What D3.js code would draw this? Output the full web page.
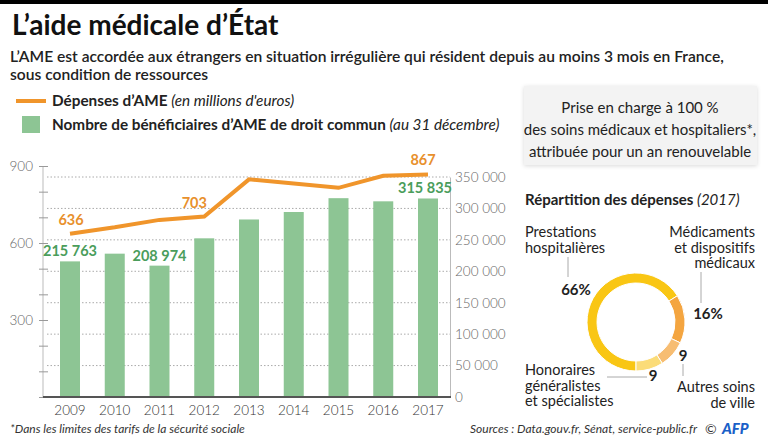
<!DOCTYPE html>
<html>
<head>
<meta charset="utf-8">
<script src="https://cdn.jsdelivr.net/npm/d3@7"></script>
<style>
  body { margin: 0; background: #fff; }
  text { font-family: Lato, "Noto Sans", sans-serif; }
</style>
</head>
<body>
<div id="chart"></div>
<script>
// data
var years = ["2009", "2010", "2011", "2012", "2013", "2014", "2015", "2016", "2017"];
var beneficiaires = [215763, 228036, 208974, 252437, 282425, 294298, 316314, 311310, 315835];
var depenses = [636, 661, 690, 703, 848, 832, 815, 862, 867];
var leftTicks = [0, 100, 200, 300, 400, 500, 600, 700, 800, 900];
var rightTicks = [0, 50000, 100000, 150000, 200000, 250000, 300000, 350000];
var shareLabels = ["Prestations hospitalières", "Médicaments et dispositifs médicaux", "Autres soins de ville", "Honoraires généralistes et spécialistes"];
var shareValues = [66, 16, 9, 9];
var shareColors = ["#f9c614", "#f4a540", "#f7bd72", "#fbdc78"];

var W = 768, H = 447;
var svg = d3.select("#chart").append("svg")
    .attr("width", W).attr("height", H);

// top bar + title
svg.append("rect").attr("x", 0).attr("y", 0).attr("width", W).attr("height", 4).attr("fill", "#000");
svg.append("text").attr("x", 12).attr("y", 35)
    .style("font-size", "28px").style("font-weight", 700).attr("fill", "#111")
    .text("L’aide médicale d’État");
svg.append("text").attr("x", 10).attr("y", 62)
    .style("font-size", "15.6px").style("font-weight", 600).attr("fill", "#222")
    .text("L’AME est accordée aux étrangers en situation irrégulière qui résident depuis au moins 3 mois en France,");
svg.append("text").attr("x", 10).attr("y", 80)
    .style("font-size", "15.6px").style("font-weight", 600).attr("fill", "#222")
    .text("sous condition de ressources");

// legend
svg.append("line").attr("x1", 16).attr("x2", 46).attr("y1", 101).attr("y2", 101)
    .attr("stroke", "#f0952b").attr("stroke-width", 4);
var l1 = svg.append("text").attr("x", 52).attr("y", 106).style("font-size", "15.3px").attr("fill", "#222");
l1.append("tspan").style("font-weight", 700).text("Dépenses d’AME ");
l1.append("tspan").style("font-style", "italic").text("(en millions d'euros)");
svg.append("rect").attr("x", 22).attr("y", 116).attr("width", 18).attr("height", 17).attr("fill", "#8dc594");
var l2 = svg.append("text").attr("x", 52).attr("y", 130).style("font-size", "15.3px").attr("fill", "#222");
l2.append("tspan").style("font-weight", 700).text("Nombre de bénéficiaires d’AME de droit commun ");
l2.append("tspan").style("font-style", "italic").text("(au 31 décembre)");

// scales
var x = d3.scalePoint().domain(years).range([70, 428]);
var yL = d3.scaleLinear().domain([0, 900]).range([397, 166]);
var yR = d3.scaleLinear().domain([0, 350000]).range([397, 177]);
var barW = 20;
var fmt = function (v) { return d3.format(",")(v).replace(/,/g, " "); };

// grid (dotted, on the right scale)
svg.append("g").selectAll("line")
    .data(rightTicks.filter(function (d) { return d > 0; }))
    .enter().append("line")
    .attr("x1", 47).attr("x2", 450)
    .attr("y1", function (d) { return yR(d); }).attr("y2", function (d) { return yR(d); })
    .attr("stroke", "#aaa").attr("stroke-width", 1).attr("stroke-dasharray", "1.5,2");

// bars
svg.append("g").selectAll("rect")
    .data(beneficiaires)
    .enter().append("rect")
    .attr("x", function (d, i) { return x(years[i]) - barW / 2; })
    .attr("y", function (d) { return yR(d); })
    .attr("width", barW)
    .attr("height", function (d) { return yR(0) - yR(d); })
    .attr("fill", "#8dc594");

// left axis
var axL = svg.append("g").attr("transform", "translate(43,0)")
    .call(d3.axisLeft(yL).tickValues(leftTicks).tickSize(4)
        .tickFormat(function (d) { return d % 300 === 0 && d > 0 ? d : ""; }));
axL.select(".domain").attr("stroke", "#bbb").attr("d", "M0," + yL(900) + "V" + yL(0));
axL.selectAll(".tick line").attr("stroke", "#999").attr("x1", -4).attr("x2", 5);
axL.selectAll(".tick text").attr("x", -10).attr("fill", "#666")
    .style("font-size", "13.5px").style("font-family", "Lato, sans-serif").style("font-weight", 300);

// right axis
var axR = svg.append("g").attr("transform", "translate(450,0)")
    .call(d3.axisRight(yR).tickValues(rightTicks).tickSize(0).tickFormat(fmt));
axR.select(".domain").attr("stroke", "#bbb");
axR.selectAll(".tick text").attr("x", 5).attr("fill", "#666")
    .style("font-size", "13.5px").style("font-family", "Lato, sans-serif").style("font-weight", 300);

// baseline
svg.append("line").attr("x1", 43).attr("x2", 451).attr("y1", yL(0)).attr("y2", yL(0))
    .attr("stroke", "#555").attr("stroke-width", 2);

// year labels
svg.append("g").selectAll("text")
    .data(years).enter().append("text")
    .attr("x", function (d) { return x(d); }).attr("y", 415)
    .attr("text-anchor", "middle").attr("fill", "#333")
    .style("font-size", "13.5px").style("font-weight", 300)
    .text(function (d) { return d; });

// line
svg.append("path")
    .datum(depenses)
    .attr("fill", "none").attr("stroke", "#f0952b").attr("stroke-width", 4)
    .attr("d", d3.line()
        .x(function (d, i) { return x(years[i]); })
        .y(function (d) { return yL(d); }));

// value labels
var lineLab = [0, 3, 8];
svg.append("g").selectAll("text")
    .data(lineLab).enter().append("text")
    .attr("x", function (i) { return x(years[i]) + (i === 8 ? -5 : i === 3 ? -10 : 1); })
    .attr("y", function (i) { return yL(depenses[i]) - 9; })
    .attr("text-anchor", "middle").attr("fill", "#e8902c")
    .style("font-size", "14.5px").style("font-weight", 700)
    .text(function (i) { return depenses[i]; });
var barLab = [0, 2, 8];
svg.append("g").selectAll("text")
    .data(barLab).enter().append("text")
    .attr("x", function (i) { return x(years[i]) + (i === 8 ? -3 : 0); })
    .attr("y", function (i) { return yR(beneficiaires[i]) - 5; })
    .attr("text-anchor", "middle").attr("fill", "#4a9d5b")
    .style("font-size", "14.5px").style("font-weight", 700)
    .text(function (i) { return fmt(beneficiaires[i]); });

// info box
var defs = svg.append("defs");
var f = defs.append("filter").attr("id", "shadow").attr("x", "-10%").attr("y", "-10%").attr("width", "120%").attr("height", "130%");
f.append("feDropShadow").attr("dx", 0).attr("dy", 1).attr("stdDeviation", 2).attr("flood-color", "#000").attr("flood-opacity", 0.15);
svg.append("rect").attr("x", 524).attr("y", 86).attr("width", 233).attr("height", 79)
    .attr("fill", "#f3f3f3").attr("filter", "url(#shadow)");
var boxLines = ["Prise en charge à 100 %", "des soins médicaux et hospitaliers*,", "attribuée pour un an renouvelable"];
svg.append("g").selectAll("text")
    .data(boxLines).enter().append("text")
    .attr("x", 640).attr("y", function (d, i) { return 113 + i * 22; })
    .attr("text-anchor", "middle").attr("fill", "#222")
    .style("font-size", "15px")
    .text(function (d) { return d; });

// donut
var dt = svg.append("text").attr("x", 525).attr("y", 205).style("font-size", "15px").attr("fill", "#222");
dt.append("tspan").style("font-weight", 700).text("Répartition des dépenses ");
dt.append("tspan").style("font-style", "italic").text("(2017)");

var cx = 636, cy = 322;
var pie = d3.pie().sort(null).startAngle(Math.PI).endAngle(3 * Math.PI);
var arc = d3.arc().innerRadius(39).outerRadius(49);
svg.append("g").attr("transform", "translate(" + cx + "," + cy + ")")
    .selectAll("path").data(pie(shareValues)).enter().append("path")
    .attr("d", arc)
    .attr("fill", function (d, i) { return shareColors[i]; })
    .attr("stroke", "#fff").attr("stroke-width", 1);

// donut labels and leaders
function lines(xp, y0, arr, anchor) {
    svg.append("g").selectAll("text").data(arr).enter().append("text")
        .attr("x", xp).attr("y", function (d, i) { return y0 + i * 15.5; })
        .attr("text-anchor", anchor).attr("fill", "#222")
        .style("font-size", "14.5px")
        .text(function (d) { return d; });
}
lines(525, 237, ["Prestations", "hospitalières"], "start");
lines(755, 237, ["Médicaments", "et dispositifs", "médicaux"], "end");
lines(755, 392, ["Autres soins", "de ville"], "end");
lines(525, 375, ["Honoraires", "généralistes", "et spécialistes"], "start");

var leader = svg.append("g").attr("stroke", "#aaa").attr("stroke-width", 1);
leader.append("line").attr("x1", 568).attr("x2", 568).attr("y1", 257).attr("y2", 277);
leader.append("line").attr("x1", 701).attr("x2", 701).attr("y1", 272).attr("y2", 303);
leader.append("line").attr("x1", 683).attr("x2", 683).attr("y1", 364).attr("y2", 376);
leader.append("line").attr("x1", 607).attr("x2", 647).attr("y1", 377).attr("y2", 377);

var pctPos = [[576, 295], [708, 319], [683, 361], [653, 381]];
svg.append("g").selectAll("text").data(shareValues).enter().append("text")
    .attr("x", function (d, i) { return pctPos[i][0]; })
    .attr("y", function (d, i) { return pctPos[i][1]; })
    .attr("text-anchor", "middle").attr("fill", "#222")
    .style("font-size", "15px").style("font-weight", 700)
    .text(function (d, i) { return i < 2 ? d + "%" : d; });

// footer
svg.append("text").attr("x", 10).attr("y", 433)
    .style("font-size", "12px").style("font-style", "italic").attr("fill", "#333")
    .text("*Dans les limites des tarifs de la sécurité sociale");
svg.append("text").attr("x", 697).attr("y", 433).attr("text-anchor", "end")
    .style("font-size", "12px").style("font-style", "italic").attr("fill", "#333")
    .text("Sources : Data.gouv.fr, Sénat, service-public.fr");
svg.append("text").attr("x", 705).attr("y", 434)
    .style("font-size", "14px").attr("fill", "#333").text("©");
svg.append("text").attr("x", 722).attr("y", 434)
    .style("font-size", "15px").style("font-weight", 900).style("font-style", "italic")
    .attr("fill", "#1a5fc8").text("AFP");
</script>
</body>
</html>
